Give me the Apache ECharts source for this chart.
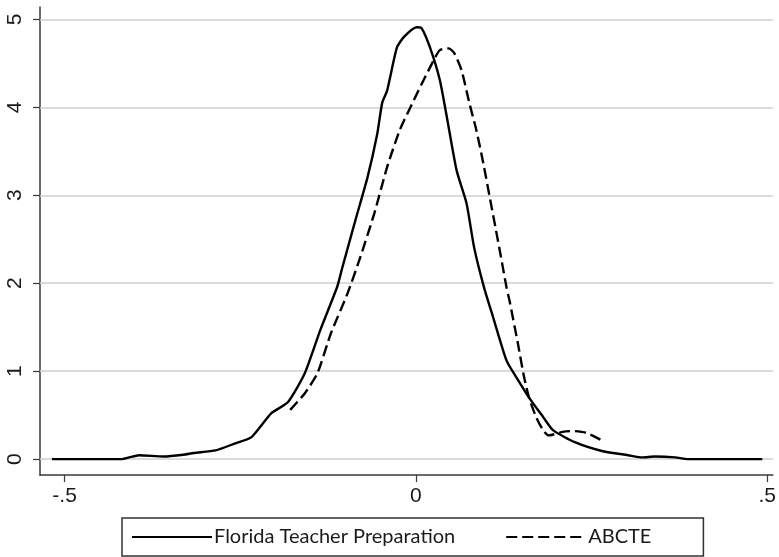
<!DOCTYPE html>
<html>
<head>
<meta charset="utf-8">
<script src="https://cdn.jsdelivr.net/npm/echarts@6/dist/echarts.min.js"></script>
<style>html,body{margin:0;padding:0;background:#fff}#c{width:779px;height:557px}</style>
</head>
<body>
<div id="c"></div>
<script>
// Florida Teacher Preparation (solid) density: [x, density]
const floridaX = [-0.518,-0.418,-0.408,-0.394,-0.359,-0.331,-0.316,-0.285,-0.257,-0.234,-0.206,-0.182,-0.158,-0.136,-0.112,-0.105,-0.086,-0.069,-0.055,-0.048,-0.041,-0.027,-0.017,0.001,0.008,0.020,0.034,0.044,0.058,0.072,0.083,0.097,0.110,0.129,0.143,0.161,0.181,0.195,0.227,0.266,0.302,0.322,0.340,0.369,0.387,0.493];
const floridaY = [0,0,0.02,0.045,0.03,0.05,0.07,0.10,0.18,0.25,0.52,0.65,0.98,1.47,1.96,2.17,2.72,3.20,3.70,4.05,4.19,4.68,4.80,4.91,4.90,4.68,4.31,3.89,3.28,2.91,2.40,1.95,1.61,1.12,0.93,0.70,0.48,0.33,0.19,0.09,0.045,0.02,0.03,0.02,0,0];
// ABCTE (dashed) density
const abcteX = [-0.179,-0.158,-0.140,-0.121,-0.097,-0.079,-0.059,-0.041,-0.023,-0.003,0.011,0.025,0.034,0.047,0.055,0.065,0.076,0.086,0.096,0.105,0.114,0.121,0.129,0.133,0.145,0.154,0.161,0.171,0.181,0.189,0.209,0.223,0.242,0.263];
const abcteY = [0.56,0.75,0.98,1.43,1.89,2.30,2.80,3.32,3.74,4.08,4.31,4.53,4.65,4.67,4.61,4.42,4.05,3.74,3.36,2.98,2.60,2.30,1.95,1.81,1.32,0.93,0.70,0.48,0.33,0.27,0.31,0.32,0.30,0.22];
const seriesNames = ['Florida Teacher Preparation','ABCTE'];
const xTickValues = [-0.5,0,0.5];
const xTickLabels = ['-.5','0','.5'];
const yTickValues = [0,1,2,3,4,5];
const yTickLabels = ['0','1','2','3','4','5'];

const zip = (a,b)=>a.map((v,i)=>[v,b[i]]);
const chart = echarts.init(document.getElementById('c'), null, {renderer:'canvas'});
const axisCol = '#3a3a3a';
chart.setOption({
  animation:false,
  backgroundColor:'#fff',
  grid:{left:40,top:7,width:738,height:468,containLabel:false},
  xAxis:{
    type:'value',min:-0.535,max:0.508,
    axisLine:{show:true,onZero:false,lineStyle:{color:axisCol,width:1.5}},
    axisTick:{show:true,length:7,customValues:xTickValues,lineStyle:{color:axisCol,width:1.2}},
    axisLabel:{customValues:xTickValues,margin:11,fontFamily:'Liberation Sans',fontSize:21,color:'#1a1a1a',
      formatter:v=>{const i=xTickValues.findIndex(t=>Math.abs(t-v)<1e-9);return i>=0?xTickLabels[i]:'';}},
    splitLine:{show:false}
  },
  yAxis:{
    type:'value',min:-0.18,max:5.14,
    axisLine:{show:true,onZero:false,lineStyle:{color:axisCol,width:1.5}},
    axisTick:{show:true,length:7,customValues:yTickValues,lineStyle:{color:axisCol,width:1.2}},
    axisLabel:{customValues:yTickValues,rotate:90,margin:14,fontFamily:'Liberation Sans',fontSize:21,color:'#1a1a1a',
      formatter:v=>{const i=yTickValues.findIndex(t=>Math.abs(t-v)<1e-9);return i>=0?yTickLabels[i]:'';}},
    splitLine:{show:false}
  },
  legend:{
    data:seriesNames,
    left:122,top:518,
    orient:'horizontal',
    padding:[9,52,9,9],
    itemGap:50,itemWidth:80,itemHeight:14,
    itemStyle:{opacity:0},
    borderColor:'#333',borderWidth:1.5,borderRadius:0,
    textStyle:{fontFamily:'Lato',fontSize:20,color:'#1a1a1a',padding:[0,0,0,-3]},
    selectedMode:false
  },
  series:[
    {name:'grid',type:'line',data:[],silent:true,z:1,
     markLine:{silent:true,symbol:'none',z:1,label:{show:false},animation:false,
       lineStyle:{color:'#cfcfcf',width:1.6,type:'solid'},
       data:yTickValues.map(v=>({yAxis:v}))}},
    {name:seriesNames[0],type:'line',data:zip(floridaX,floridaY),showSymbol:false,symbol:'none',smooth:0.2,z:3,
     lineStyle:{color:'#000',width:2.4,type:'solid'},itemStyle:{color:'#000'}},
    {name:seriesNames[1],type:'line',data:zip(abcteX,abcteY),showSymbol:false,symbol:'none',smooth:0.2,z:3,
     lineStyle:{color:'#000',width:2.4,type:[11,5]},itemStyle:{color:'#000'}}
  ]
});
</script>
</body>
</html>
